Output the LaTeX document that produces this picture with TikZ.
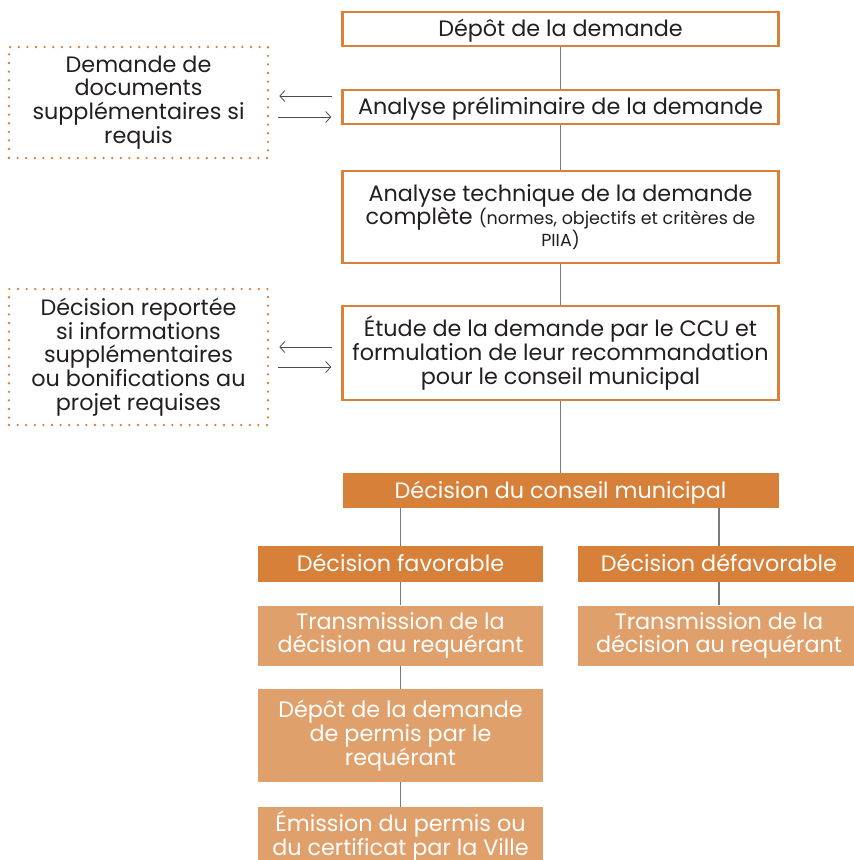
\documentclass[tikz,border=0pt]{standalone}
\usepackage{fontspec}
\setmainfont{Poppins}
\usetikzlibrary{arrows.meta,calc}
\definecolor{orbord}{HTML}{D9813A}
\definecolor{ordark}{HTML}{D6803A}
\definecolor{orlight}{HTML}{E0A06B}
\definecolor{txt}{HTML}{231F20}
\definecolor{lnk}{HTML}{7A7A7A}
\begin{document}
\begin{tikzpicture}[x=1pt,y=-1pt,
  every node/.style={inner sep=0pt, align=center, font=\fontsize{22.3}{23.8}\selectfont},
  oneline/.style={text height=16pt, text depth=0.6pt},
  outl/.style={draw=orbord, line width=2.5pt, fill=white, text=txt},
  darkb/.style={fill=ordark, text=white},
  lightb/.style={fill=orlight, text=white},
  dotb/.style={draw=orbord, line width=2.6pt, dash pattern=on 0pt off 8.6pt, line cap=round, text=txt},
  link/.style={draw=lnk, line width=1.6pt},
  arr/.style={draw=black!70, line width=0.8pt, -{Straight Barb[length=5pt,width=11pt]}, shorten <=9pt, shorten >=10pt}
]
\useasboundingbox (0,0) rectangle (854,860);
\fill[white] (0,0) rectangle (854,860);

% vertical spine
\node (b5) [darkb, oneline, minimum width=436, minimum height=35] at (560.5,490.5) {Décision du conseil municipal};
\node (b1) [outl, oneline, minimum width=436, minimum height=34] at (560.5,29) {Dépôt de la demande};
\node (b2) [outl, oneline, minimum width=436, minimum height=34] at (560.5,107) {Analyse préliminaire de la demande};
\node (b3) [outl, minimum width=436, minimum height=92] at (560.5,217) {Analyse technique de la demande\\complète {\fontsize{17.5}{20}\selectfont (normes, objectifs et critères de}\\[-2pt]{\fontsize{17.5}{20}\selectfont PIIA)}};
\node (b4) [outl, minimum width=436, minimum height=94] at (560.5,353) {Étude de la demande par le CCU et\\formulation de leur recommandation\\pour le conseil municipal};

\node (fav) [darkb, oneline, minimum width=285, minimum height=36] at (400.5,564) {Décision favorable};
\node (def) [darkb, oneline, minimum width=282, minimum height=36] at (719,564) {Décision défavorable};
\node (tl) [lightb, minimum width=285, minimum height=60] at (400.5,635.5) {Transmission de la\\décision au requérant};
\node (tr) [lightb, minimum width=282, minimum height=60] at (719,635.5) {Transmission de la\\décision au requérant};
\node (dp) [lightb, minimum width=285, minimum height=93] at (400.5,735.5) {Dépôt de la demande\\de permis par le\\requérant};
\node (em) [lightb, minimum width=285, minimum height=58, anchor=north] at (400.5,807) {Émission du permis ou\\du certificat par la Ville};

\node (d1) [dotb, minimum width=259, minimum height=111] at (138.5,102.5) {Demande de\\documents\\supplémentaires si\\requis};
\node (d2) [dotb, minimum width=259, minimum height=136] at (138.5,357) {Décision reportée\\si informations\\supplémentaires\\ou bonifications au\\projet requises};

% connectors
\draw[link] (b1.south) -- (b2.north);
\draw[link] (b2.south) -- (b3.north);
\draw[link] (b3.south) -- (b4.north);
\draw[link] (b4.south) -- (b5.north);
\draw[link] (b5.south -| fav.north) -- (fav.north);
\draw[link] (b5.south -| def.north) -- (def.north);
\draw[link] (fav.south) -- (tl.north);
\draw[link] (def.south) -- (tr.north);
\draw[link] (tl.south) -- (dp.north);
\draw[link] (dp.south) -- (em.north);

% side arrows
\draw[arr] (b2.west |- 0,96) -- (d1.east |- 0,96);
\draw[arr] (d1.east |- 0,117) -- (b2.west |- 0,117);
\draw[arr] (b4.west |- 0,347) -- (d2.east |- 0,347);
\draw[arr] (d2.east |- 0,367) -- (b4.west |- 0,367);
\end{tikzpicture}
\end{document}
